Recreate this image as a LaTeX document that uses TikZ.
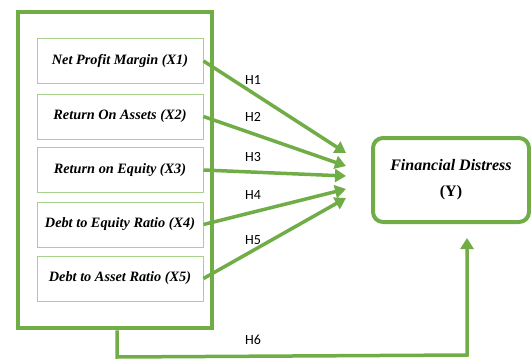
\documentclass[tikz,border=0pt]{standalone}
\usepackage{fontspec}
\setmainfont{Liberation Serif}
\newfontfamily\hfont{Carlito}
\usepackage{tikz}
\usetikzlibrary{arrows.meta, positioning, calc}
\definecolor{leaf}{HTML}{70AD47}
\definecolor{leaflight}{HTML}{A9D18E}

\begin{document}
\begin{tikzpicture}[
    x=1pt, y=-1pt,
    group/.style={
        draw=leaf,
        line width=4.5pt,
        minimum width=194pt,
        minimum height=316pt
    },
    var/.style={
        draw=leaflight,
        line width=1pt,
        fill=white,
        minimum width=166pt,
        minimum height=45pt,
        font=\rmfamily\fontsize{14.3}{16}\selectfont\bfseries\itshape
    },
    target/.style={
        draw=leaf,
        line width=4pt,
        rounded corners=10pt,
        minimum width=156pt,
        minimum height=84pt,
        align=center,
        font=\rmfamily\fontsize{16}{18}\selectfont\bfseries
    },
    link/.style={
        draw=leaf,
        line width=3.5pt,
        -{Triangle[length=11pt,width=13pt]}
    },
    hyp/.style={
        font=\hfont\fontsize{14}{16}\selectfont
    }
]
\useasboundingbox (0,0) rectangle (531,362);

% Independent variables grouped in one frame
\node[group] (grp) at (115,170) {};

\foreach \i/\y/\t in {1/61/Net Profit Margin (X1),
                      2/116.5/Return On Assets (X2),
                      3/170/Return on Equity (X3),
                      4/224.5/Debt to Equity Ratio (X4),
                      5/278.5/Debt to Asset Ratio (X5)} {
    \node[var] (x\i) at (120,\y) {\t};
}

% Dependent variable
\node[target] (fd) at (451,180) {\itshape Financial Distress\\[8pt](Y)};

% Arrow tips in front of the target
\coordinate (t1) at (346,153);
\coordinate (t2) at (346,166);
\coordinate (t3) at (346,176);
\coordinate (t4) at (346,189);
\coordinate (t5) at (346,198);

% Hypothesis arrows H1--H5
\foreach \i in {1,...,5} {
    \draw[link] (x\i.east) -- (t\i);
}
\node[hyp] (h1) at (253,80) {H1};
\node[hyp] (h2) at (253,117) {H2};
\node[hyp] (h3) at (253,157) {H3};
\node[hyp] (h4) at (253,195) {H4};
\node[hyp] (h5) at (253,240) {H5};

% H6 from the whole group
\coordinate (c1) at (117,357);
\coordinate (c2) at (467,355);
\draw[link] (grp.south -| c1) -- (c1) -- (c2) -- ([yshift=-14pt]fd.south -| c2);
\node[hyp] (h6) at (253,340) {H6};
\end{tikzpicture}
\end{document}
